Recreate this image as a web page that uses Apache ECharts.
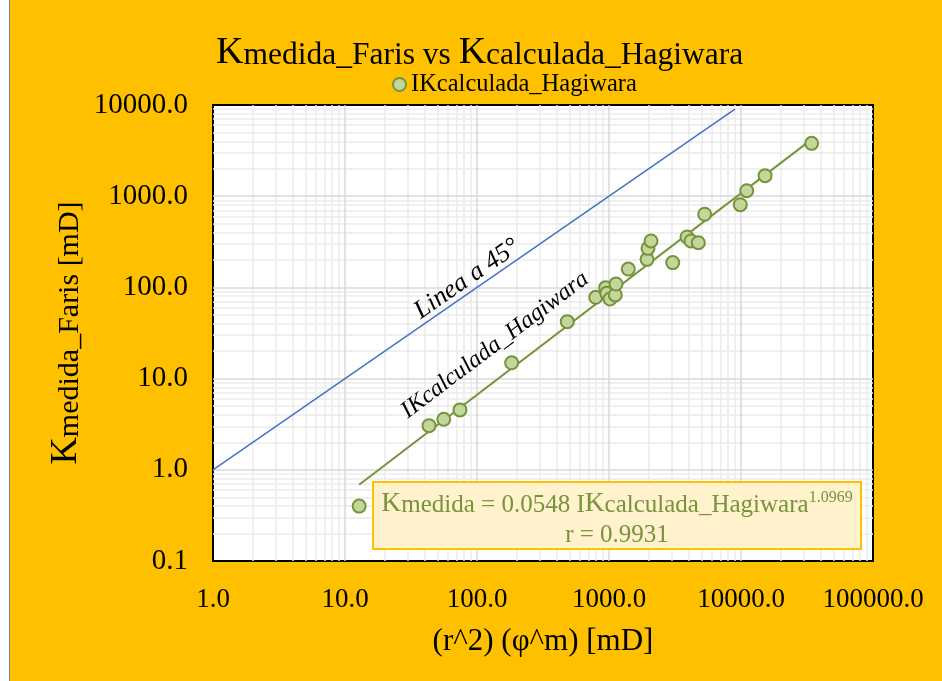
<!DOCTYPE html>
<html><head><meta charset="utf-8">
<script src="https://cdn.jsdelivr.net/npm/echarts@6/dist/echarts.min.js"></script>
<style>
html,body{margin:0;padding:0;background:#fff}
#c{width:942px;height:681px;background:linear-gradient(to right,#fff 0,#fff 9px,#7f7f7f 9px,#7f7f7f 10px,#FFC000 10px)}
</style>
</head><body><div id="c"></div>
<script>
// Data
const kCalculada = [12.8, 43.3, 56, 74.3, 183, 483, 793, 944, 961, 1018, 1116, 1130, 1400, 1941, 1974, 2081, 3040, 3900, 4180, 4750, 5310, 9880, 11050, 15220, 34300];
const kMedida    = [0.40, 3.05, 3.58, 4.54, 14.9, 42.1, 77.9, 99.3, 86.1, 74.6, 82.6, 109, 159, 203, 268, 323, 187, 357, 323, 309, 634, 807, 1148, 1680, 3800];
const line45X = [1, 9000];
const xTicks = [1, 10, 100, 1000, 10000, 100000];
const yTicks = [0.1, 1, 10, 100, 1000, 10000];
const fitText = { coef: '0.0548', exp: '1.0969', r: '0.9931' };

const FONT = "'Liberation Serif','Times New Roman',serif";
const GREEN = '#77933C';

// power-law trendline (least squares in log-log space), drawn over the data range
const lx = kCalculada.map(Math.log10), ly = kMedida.map(Math.log10);
const n = lx.length;
const mx = lx.reduce((a,b)=>a+b,0)/n, my = ly.reduce((a,b)=>a+b,0)/n;
let sxy=0, sxx=0;
for (let i=0;i<n;i++){ sxy+=(lx[i]-mx)*(ly[i]-my); sxx+=(lx[i]-mx)**2; }
const b = sxy/sxx, a = my - b*mx;
const xmin = Math.min(...kCalculada), xmax = Math.max(...kCalculada);
const trend = [[xmin, Math.pow(10, a + b*Math.log10(xmin))], [xmax, Math.pow(10, a + b*Math.log10(xmax))]];

// grid lines at 1..9 x decade
function gridVals(ticks){
  const minor=[], major=[];
  for (let i=0;i<ticks.length-1;i++){
    for (let m=2;m<=9;m++) minor.push(ticks[i]*m);
    if (i>0) major.push(ticks[i]);
  }
  return {minor, major};
}
const gx = gridVals(xTicks), gy = gridVals(yTicks);

const chart = echarts.init(document.getElementById('c'), null, {renderer:'canvas'});
chart.setOption({
  backgroundColor:'transparent',
  animation:false,
  title:{
    text:'{k|K}{t|medida_Faris vs }{k|K}{t|calculada_Hagiwara}',
    left:216, top:35, padding:0, itemGap:0,
    textStyle:{fontWeight:'normal', rich:{
      k:{fontFamily:FONT, fontSize:38, fontWeight:'normal', color:'#000', verticalAlign:'bottom', lineHeight:37},
      t:{fontFamily:FONT, fontSize:31.5, fontWeight:'normal', color:'#000', verticalAlign:'bottom', lineHeight:37}
    }}
  },
  legend:{
    top:72, left:392, padding:0,
    itemWidth:13, itemHeight:13, itemGap:6,
    textStyle:{fontFamily:FONT, fontSize:24.5, color:'#000'},
    data:['IKcalculada_Hagiwara']
  },
  grid:{left:213, top:105, right:69, bottom:120, show:true, backgroundColor:'#fff', borderColor:'#000', borderWidth:2},
  xAxis:{
    type:'log', logBase:10, min:xTicks[0], max:xTicks[xTicks.length-1], splitNumber:5,
    axisLine:{show:false}, axisTick:{show:false}, splitLine:{show:false},
    axisLabel:{fontFamily:FONT, fontSize:27, color:'#000', margin:25, formatter:v=>Number(v).toFixed(1)},
    name:'(r^2) (φ^m) [mD]', nameLocation:'middle', nameGap:65, nameMoveOverlap:false,
    nameTextStyle:{fontFamily:FONT, fontSize:31, color:'#000'}
  },
  yAxis:{
    type:'log', logBase:10, min:yTicks[0], max:yTicks[yTicks.length-1], splitNumber:5,
    axisLine:{show:false}, axisTick:{show:false}, splitLine:{show:false},
    axisLabel:{fontFamily:FONT, fontSize:29, color:'#000', margin:25, formatter:v=>Number(v).toFixed(1)},
    name:'{k|K}{t|medida_Faris [mD]}', nameLocation:'middle', nameGap:128, nameMoveOverlap:false,
    nameTextStyle:{rich:{
      k:{fontFamily:FONT, fontSize:38, color:'#000', verticalAlign:'bottom', lineHeight:38},
      t:{fontFamily:FONT, fontSize:30, color:'#000', verticalAlign:'bottom', lineHeight:38}
    }}
  },
  series:[
    {type:'scatter', data:[], z:1, silent:true,
      markLine:{z:1, silent:true, symbol:'none', label:{show:false}, animation:false,
        lineStyle:{color:'#EBEBEB', width:1.5, type:'solid'},
        data:[...gx.minor.map(v=>({xAxis:v})), ...gy.minor.map(v=>({yAxis:v}))]}},
    {type:'scatter', data:[], z:1, silent:true,
      markLine:{z:1.1, silent:true, symbol:'none', label:{show:false}, animation:false,
        lineStyle:{color:'#D9D9D9', width:1.5, type:'solid'},
        data:[...gx.major.map(v=>({xAxis:v})), ...gy.major.map(v=>({yAxis:v}))]}},
    {name:'Linea a 45°', type:'line', data:line45X.map(v=>[v,v]), symbol:'none', z:3,
      lineStyle:{color:'#4472C4', width:1.5}},
    {name:'trend', type:'line', data:trend, symbol:'none', z:3,
      lineStyle:{color:GREEN, width:2}},
    {name:'IKcalculada_Hagiwara', type:'scatter', z:4,
      data:kCalculada.map((x,i)=>[x,kMedida[i]]),
      symbol:'circle', symbolSize:13,
      itemStyle:{color:'#C3D69B', borderColor:GREEN, borderWidth:2, opacity:1}}
  ],
  graphic:[
    {type:'text', x:467, y:279, rotation:34.6*Math.PI/180, z:10,
      style:{text:'Linea a 45°', font:`italic 26px ${FONT}`, fill:'#000', align:'center', verticalAlign:'middle'}},
    {type:'text', x:495, y:345, rotation:37*Math.PI/180, z:10,
      style:{text:'IKcalculada_Hagiwara', font:`italic 24px ${FONT}`, fill:'#000', align:'center', verticalAlign:'middle'}},
    {type:'rect', shape:{x:373, y:482, width:488, height:67}, z:10,
      style:{fill:'#FFF2CC', stroke:'#FFC000', lineWidth:2}},
    {type:'text', x:617, y:519, z:11,
      style:{
        text:`{k|K}{t|medida = ${fitText.coef} I}{k|K}{t|calculada_Hagiwara}{s|${fitText.exp}}\n{u|r = ${fitText.r}}`,
        align:'center', verticalAlign:'middle',
        rich:{
          k:{fontSize:27.5, fontFamily:FONT, fill:GREEN, verticalAlign:'bottom', lineHeight:28},
          t:{fontSize:25, fontFamily:FONT, fill:GREEN, verticalAlign:'bottom', lineHeight:28},
          s:{fontSize:16, fontFamily:FONT, fill:GREEN, verticalAlign:'top', lineHeight:28},
          u:{fontSize:25, fontFamily:FONT, fill:GREEN, verticalAlign:'bottom', lineHeight:30}
        }
      }}
  ]
});
</script>
</body></html>
